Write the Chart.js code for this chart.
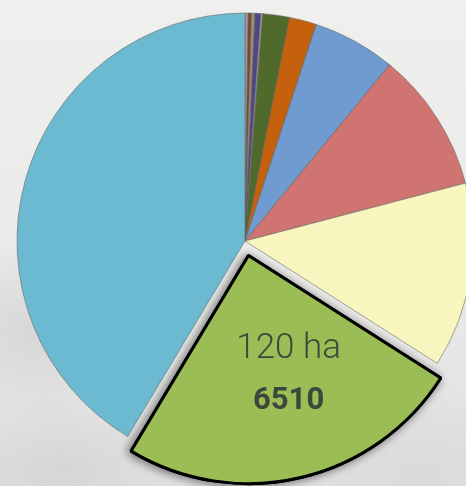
<!DOCTYPE html>
<html>
<head>
<meta charset="utf-8">
<script src="https://cdn.jsdelivr.net/npm/chart.js@4"></script>
<style>
    html, body {
        margin: 0;
        padding: 0;
        width: 466px;
        height: 486px;
        overflow: hidden;
    }
    body {
        background:
            radial-gradient(ellipse 120px 90px at 40px 330px, rgba(200,200,200,0.55), rgba(200,200,200,0) 100%),
            radial-gradient(ellipse 140px 80px at 60px 470px, rgba(205,205,205,0.6), rgba(205,205,205,0) 100%),
            radial-gradient(ellipse 160px 90px at 420px 470px, rgba(210,210,210,0.5), rgba(210,210,210,0) 100%),
            linear-gradient(to bottom, #efefed 0%, #ebebea 45%, #e2e2e2 100%);
    }
    #wrap {
        position: absolute;
        left: 0;
        top: 0;
        width: 466px;
        height: 486px;
    }
</style>
</head>
<body>
<div id="wrap"><canvas id="pieChart" width="466" height="486"></canvas></div>
<script>
// Habitat areas (ha), clockwise from 12 o'clock
const habitatCodes = ['6210', '6230', '6410', '6430', '6520', '7140', '8220', '9110', '9130', '9180', '6510', '91E0'];
const areaHa = [1.1, 1.1, 1.2, 2.0, 0.7, 9.2, 9.4, 28.7, 48.7, 64.0, 120, 202.1];
const sliceColors = ['#a99c9a', '#8b3b3b', '#8e9863', '#54458a', '#9a9a92', '#4f6a2b', '#c5600c',
                     '#6f9bd1', '#d07471', '#f8f5bf', '#9bbd55', '#6cbad1'];

const highlightCode = '6510';
const highlightLabel = '120 ha';
// Chart.js v4 moves an arc by offset / 4 pixels
const pullOut = 15;

const hi = habitatCodes.indexOf(highlightCode);

// Drop shadow under the pulled-out slice
const shadowPlugin = {
    id: 'sliceShadow',
    beforeDatasetsDraw(chart) {
        const arc = chart.getDatasetMeta(0).data[hi];
        const ctx = chart.ctx;
        ctx.save();
        ctx.shadowColor = 'rgba(0, 0, 0, 0.5)';
        ctx.shadowBlur = 10;
        ctx.shadowOffsetX = -2;
        ctx.shadowOffsetY = 1;
        arc.draw(ctx);
        ctx.restore();
    }
};

// Label inside the highlighted slice
const sliceLabelPlugin = {
    id: 'sliceLabel',
    afterDatasetsDraw(chart) {
        const arc = chart.getDatasetMeta(0).data[hi];
        const mid = (arc.startAngle + arc.endAngle) / 2;
        const r = arc.outerRadius / 2 + pullOut;
        const x = arc.x + Math.cos(mid) * r + 14;
        const y = arc.y + Math.sin(mid) * r;
        const ctx = chart.ctx;
        ctx.save();
        ctx.fillStyle = '#3d473b';
        ctx.textAlign = 'center';
        ctx.textBaseline = 'middle';
        ctx.font = '300 35px Roboto';
        ctx.fillText(highlightLabel, x, y - 17);
        ctx.font = 'bold 31px Roboto';
        ctx.fillText(highlightCode, x, y + 35);
        ctx.restore();
    }
};

const ctx = document.getElementById('pieChart').getContext('2d');
new Chart(ctx, {
    type: 'pie',
    data: {
        labels: habitatCodes,
        datasets: [{
            data: areaHa,
            backgroundColor: sliceColors,
            borderColor: habitatCodes.map(c => c === highlightCode ? '#000000' : 'rgba(95, 95, 95, 0.55)'),
            borderWidth: habitatCodes.map(c => c === highlightCode ? 3 : 1),
            offset: habitatCodes.map(c => c === highlightCode ? pullOut * 4 : 0)
        }]
    },
    options: {
        responsive: false,
        animation: false,
        radius: 228,
        layout: {
            padding: { left: 24, right: 0, top: 0, bottom: 4 }
        },
        plugins: {
            legend: { display: false },
            tooltip: { enabled: false }
        }
    },
    plugins: [shadowPlugin, sliceLabelPlugin]
});
</script>
</body>
</html>
